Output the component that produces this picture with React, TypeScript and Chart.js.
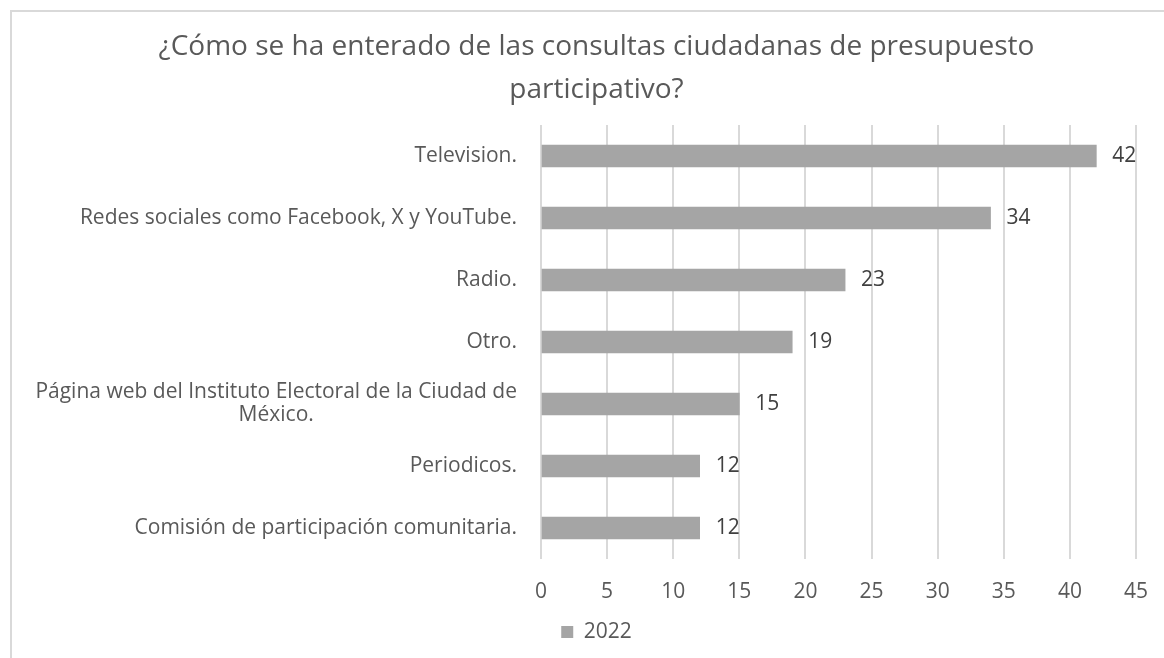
import React, { useEffect, useRef } from "react";
import { Chart, registerables } from "chart.js";

Chart.register(...registerables);

const titleLines = ["¿Cómo se ha enterado de las consultas ciudadanas de presupuesto", "participativo?"];
const categories: string[][] = [
  ["Television."],
  ["Redes sociales como Facebook, X y YouTube."],
  ["Radio."],
  ["Otro."],
  ["Página web del Instituto Electoral de la Ciudad de", "México."],
  ["Periodicos."],
  ["Comisión de participación comunitaria."],
];
const values2022 = [42, 34, 23, 19, 15, 12, 12];
const seriesLabel = "2022";
const xMin = 0;
const xMax = 45;
const xStep = 5;

const FONT = "'Open Sans', 'Noto Sans', sans-serif";
const TEXT = "#595959";
const GRID = "#d9d9d9";
const BAR = "#a5a5a5";
const LABEL_SIZE = 21;

const yLabelPlugin = {
  id: "yLabels",
  afterDraw(chart: any) {
    const ctx = chart.ctx;
    const y = chart.scales.y;
    const right = chart.chartArea.left - 24;
    ctx.save();
    ctx.font = `${LABEL_SIZE}px ${FONT}`;
    ctx.fillStyle = TEXT;
    ctx.textBaseline = "middle";
    ctx.textAlign = "center";
    const lh = 23;
    categories.forEach((lines, i) => {
      const cy = y.getPixelForTick(i);
      const widths = lines.map((l) => ctx.measureText(l).width);
      const maxW = Math.max(...widths);
      const center = right - maxW / 2;
      const y0 = cy - ((lines.length - 1) * lh) / 2;
      lines.forEach((l, j) => {
        ctx.fillText(l, center, y0 + j * lh);
      });
    });
    ctx.restore();
  },
};

const valueLabelPlugin = {
  id: "valueLabels",
  afterDatasetsDraw(chart: any) {
    const ctx = chart.ctx;
    const meta = chart.getDatasetMeta(0);
    ctx.save();
    ctx.font = `${LABEL_SIZE}px ${FONT}`;
    ctx.fillStyle = "#404040";
    ctx.textAlign = "left";
    ctx.textBaseline = "middle";
    meta.data.forEach((bar: any, i: number) => {
      ctx.fillText(String(values2022[i]), bar.x + 16, bar.y);
    });
    ctx.restore();
  },
};

export default function App() {
  const ref = useRef<HTMLCanvasElement>(null);
  useEffect(() => {
    if (!ref.current) return;
    const PAD_LEFT = 45;
    const chart = new Chart(ref.current, {
      type: "bar",
      data: {
        labels: categories.map((c) => c.join(" ")),
        datasets: [
          {
            label: seriesLabel,
            data: values2022,
            backgroundColor: BAR,
            borderWidth: 0,
            barThickness: 22,
          },
        ],
      },
      options: {
        indexAxis: "y",
        animation: false,
        responsive: false,
        layout: { padding: { left: PAD_LEFT, right: 34, top: 0, bottom: 55.5 } },
        scales: {
          x: {
            min: xMin,
            max: xMax,
            ticks: { stepSize: xStep, color: TEXT, font: { family: FONT, size: LABEL_SIZE }, padding: 20 },
            grid: { color: GRID, lineWidth: 2, drawTicks: false },
            border: { display: false },
            afterFit: (scale: any) => {
              scale.height = 52.5;
            },
          },
          y: {
            ticks: { display: false },
            grid: { display: false, drawTicks: false },
            border: { display: false },
            afterFit: (scale: any) => {
              scale.width = 529 - PAD_LEFT;
            },
          },
        },
        plugins: {
          title: {
            display: true,
            text: titleLines,
            color: TEXT,
            font: { family: FONT, size: 28, weight: "normal" as any, lineHeight: 43 / 28 },
            padding: { top: 13.5, bottom: 13.5 },
          },
          legend: {
            display: true,
            position: "bottom",
            labels: { color: TEXT, font: { family: FONT, size: LABEL_SIZE }, boxWidth: 12, boxHeight: 12, padding: 10 },
          },
          tooltip: { enabled: false },
        },
      },
      plugins: [yLabelPlugin, valueLabelPlugin],
    });
    return () => chart.destroy();
  }, []);
  return (
    <div style={{ position: "fixed", left: 0, top: 0, width: 1164, height: 658, overflow: "hidden", background: "#fff" }}>
      <div
        style={{
          position: "absolute",
          left: 10,
          top: 10,
          width: 1162,
          height: 700,
          border: `2px solid ${GRID}`,
          boxSizing: "border-box",
        }}
      >
        <canvas ref={ref} width={1158} height={696} style={{ display: "block" }} />
      </div>
    </div>
  );
}
